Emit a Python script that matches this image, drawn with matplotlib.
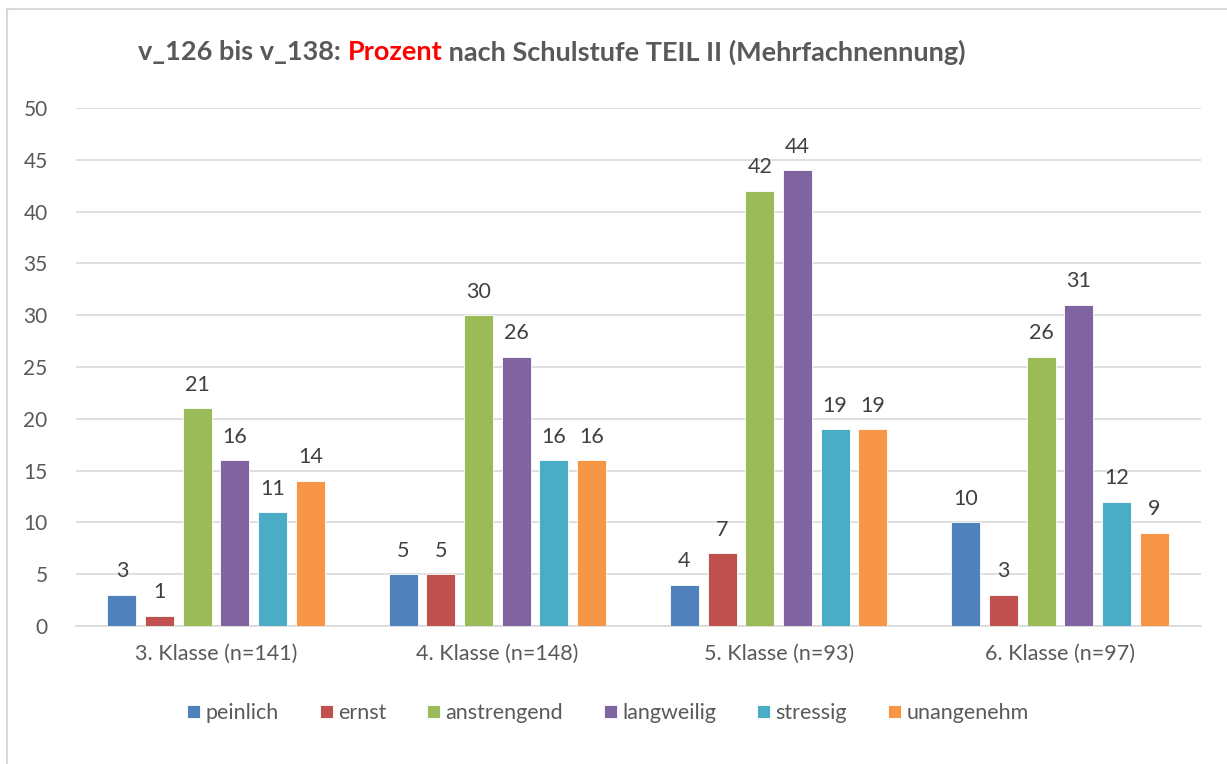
import matplotlib
matplotlib.use('Agg')
import matplotlib.pyplot as plt
import numpy as np
from matplotlib.lines import Line2D

# ── Data ──────────────────────────────────────────────────────────────
categories = ['3. Klasse (n=141)', '4. Klasse (n=148)',
              '5. Klasse (n=93)', '6. Klasse (n=97)']
series_names = ['peinlich', 'ernst', 'anstrengend',
                'langweilig', 'stressig', 'unangenehm']
peinlich    = [3, 5, 4, 10]
ernst       = [1, 5, 7, 3]
anstrengend = [21, 30, 42, 26]
langweilig  = [16, 26, 44, 31]
stressig    = [11, 16, 19, 12]
unangenehm  = [14, 16, 19, 9]
values = [peinlich, ernst, anstrengend, langweilig, stressig, unangenehm]
colors = ['#4F81BD', '#C0504D', '#9BBB59', '#8064A2', '#4BACC6', '#F79646']

plt.rcParams['font.family'] = ['Lato', 'DejaVu Sans']
text_col = '#595959'

# ── Figure ────────────────────────────────────────────────────────────
fig = plt.figure(figsize=(12.27, 7.64), dpi=100)
ax = fig.add_axes([75.5 / 1227, 1 - 626 / 764, 1125 / 1227, 518 / 764])

x = np.arange(len(categories))
width = 0.103
pitch = 0.134
for i, (name, vals) in enumerate(zip(series_names, values)):
    pos = x + (i - 2.5) * pitch
    bars = ax.bar(pos, vals, width, color=colors[i], label=name,
                  edgecolor='white', linewidth=0.6, zorder=3)
    for b, v in zip(bars, vals):
        ax.text(b.get_x() + b.get_width() / 2, v + 1.3, str(v),
                ha='center', va='bottom', fontsize=15.5, color='#404040')

ax.set_xlim(-0.5, 3.5)
ax.set_ylim(0, 50)
ax.set_yticks(range(0, 51, 5))
ax.set_xticks(x)
ax.set_xticklabels(categories)
ax.tick_params(axis='y', length=0, labelsize=15, colors=text_col, pad=20)
ax.tick_params(axis='x', length=0, labelsize=15.5, colors=text_col, pad=13)
ax.grid(axis='y', color='#D9D9D9', linewidth=1.2, zorder=0)
for s in ['top', 'right', 'left']:
    ax.spines[s].set_visible(False)
ax.spines['bottom'].set_color('#D9D9D9')
ax.spines['bottom'].set_linewidth(1.2)

# ── Title (with red word) ─────────────────────────────────────────────
ty = 1 - 52 / 764
fs_title = 19.5
t1 = fig.text(138 / 1227, ty, 'v_126 bis v_138: ', fontsize=fs_title,
              fontweight='bold', color=text_col, va='center')
fig.canvas.draw()
bb = t1.get_window_extent()
t2 = fig.text(bb.x1 / fig.bbox.width, ty, 'Prozent', fontsize=fs_title,
              fontweight='bold', color='#FF0000', va='center')
fig.canvas.draw()
bb = t2.get_window_extent()
fig.text(bb.x1 / fig.bbox.width, ty,
         ' nach Schulstufe TEIL II (Mehrfachnennung)', fontsize=fs_title,
         fontweight='bold', color=text_col, va='center')

# ── Legend ────────────────────────────────────────────────────────────
leg = fig.legend(loc='center', bbox_to_anchor=(608 / 1227, 1 - 713 / 764),
                 ncol=6, frameon=False, fontsize=15.5, handlelength=0.6,
                 handleheight=0.6, handletextpad=0.25, columnspacing=1.9)
for t in leg.get_texts():
    t.set_color(text_col)

# ── Chart border (top/left visible) ───────────────────────────────────
fig.add_artist(Line2D([7 / 1227, 7 / 1227], [0, 1 - 9 / 764],
                      transform=fig.transFigure, color='#D9D9D9', lw=1.5))
fig.add_artist(Line2D([7 / 1227, 1], [1 - 9 / 764, 1 - 9 / 764],
                      transform=fig.transFigure, color='#D9D9D9', lw=1.5))

plt.savefig('out.png', dpi=100)
plt.close()
